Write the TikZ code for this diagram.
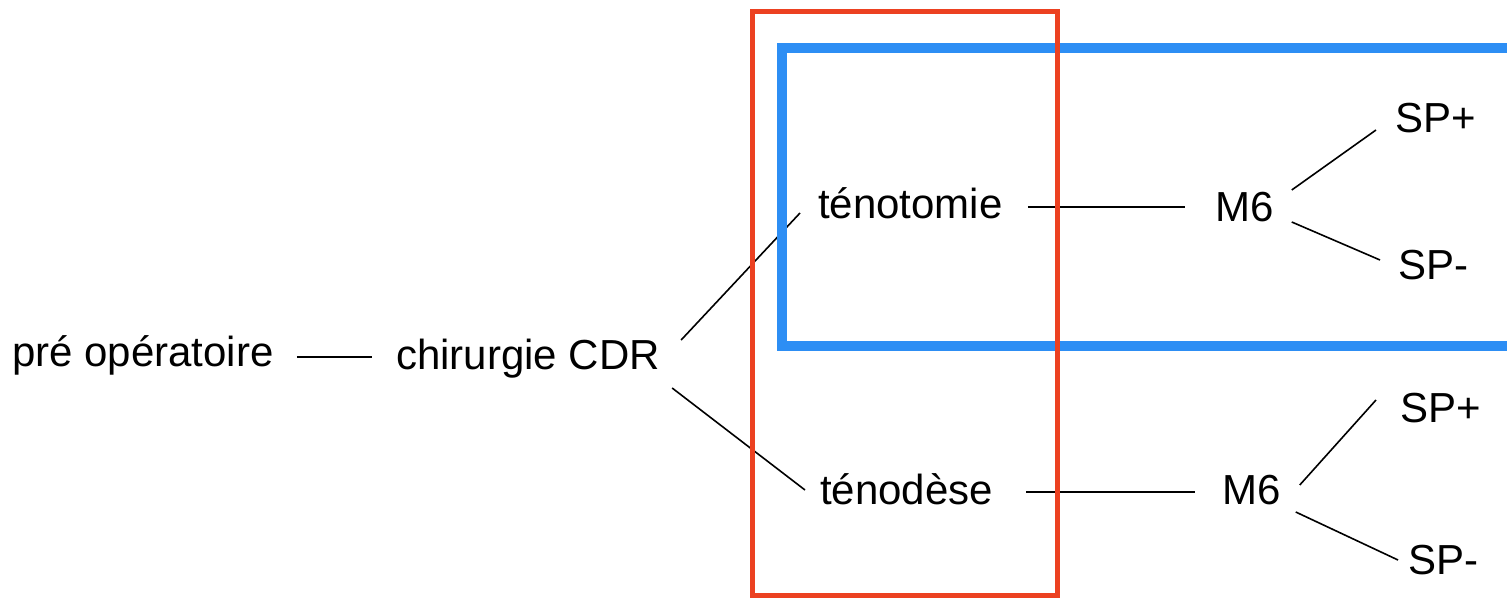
\documentclass[tikz,border=0pt]{standalone}
\usepackage{fontspec}
\setmainfont{Liberation Sans}
\usetikzlibrary{calc}
\definecolor{frameRed}{HTML}{EC4121}
\definecolor{frameBlue}{HTML}{2D8EF4}
\begin{document}
\begin{tikzpicture}[x=1pt,y=-1pt,
  lbl/.style={anchor=base west,inner sep=0pt,font=\fontsize{42}{50}\selectfont},
  link/.style={line width=1.6pt,black}]
\useasboundingbox (0,0) rectangle (1507,599);
\clip (0,0) rectangle (1507,599);
% labels
\node[lbl] (pre)  at (12,366)   {pré opératoire};
\node[lbl] (chir) at (396,369)  {chirurgie CDR};
\node[lbl] (teno) at (818,218)  {ténotomie};
\node[lbl] (tend) at (820,504)  {ténodèse};
\node[lbl] (mA)   at (1215,221) {M6};
\node[lbl] (mB)   at (1222,504) {M6};
\node[lbl] (pA)   at (1395,132) {SP+};
\node[lbl] (nA)   at (1398,279) {SP-};
\node[lbl] (pB)   at (1400,422) {SP+};
\node[lbl] (nB)   at (1408,574) {SP-};
% connectors
\draw[link] ($(pre.base east)+(23,-9)$)   -- ($(chir.base west)+(-24,-12)$);
\draw[link] ($(chir.base east)+(21,-29)$) -- ($(teno.base west)+(-18,-5)$);
\draw[link] ($(chir.base east)+(12,19)$)  -- ($(tend.base west)+(-15,-14)$);
\draw[link] ($(teno.base east)+(25,-11)$) -- ($(mA.base west)+(-30,-14)$);
\draw[link] ($(mA.base east)+(18,-31)$)   -- ($(pA.base west)+(-19,-2)$);
\draw[link] ($(mA.base east)+(18,1)$)     -- ($(nA.base west)+(-18,-19)$);
\draw[link] ($(tend.base east)+(33,-12)$) -- ($(mB.base west)+(-27,-12)$);
\draw[link] ($(mB.base east)+(19,-19)$)   -- ($(pB.base west)+(-24,-22)$);
\draw[link] ($(mB.base east)+(15,8)$)     -- ($(nB.base west)+(-10,-14)$);
% group frames
\draw[frameBlue,line width=10pt] (782,48) rectangle (1540,346);
\draw[frameRed,line width=5pt] (752,12) rectangle (1057,595);
\end{tikzpicture}
\end{document}
